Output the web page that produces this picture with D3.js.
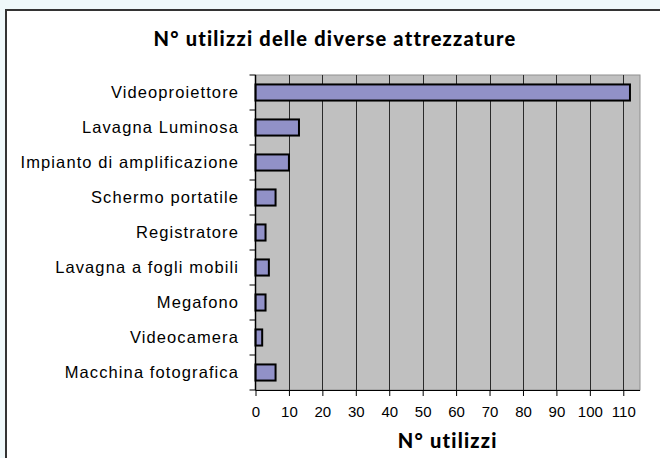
<!DOCTYPE html>
<html>
<head>
<meta charset="utf-8">
<script src="https://cdn.jsdelivr.net/npm/d3@7"></script>
<style>
  html, body { margin: 0; padding: 0; background: #eff8fa; }
  svg { display: block; }
</style>
</head>
<body>
<svg id="chart" width="660" height="458"></svg>
<script>
// Equipment categories, top to bottom
const categories = [
  "Videoproiettore",
  "Lavagna Luminosa",
  "Impianto di amplificazione",
  "Schermo portatile",
  "Registratore",
  "Lavagna a fogli mobili",
  "Megafono",
  "Videocamera",
  "Macchina fotografica"
];
// Number of uses per category
const usesCount = [112, 13, 10, 6, 3, 4, 3, 2, 6];
// Axis ticks
const xTicks = [0, 10, 20, 30, 40, 50, 60, 70, 80, 90, 100, 110];

const title = "N° utilizzi delle diverse attrezzature";
const xTitle = "N° utilizzi";

const svg = d3.select("#chart");

// Chart frame (white panel with dark border)
svg.append("rect")
  .attr("x", 6).attr("y", 10)
  .attr("width", 670).attr("height", 470)
  .attr("fill", "#ffffff")
  .attr("stroke", "#333333")
  .attr("stroke-width", 2);

const plot = { left: 255.5, right: 640, top: 75, bottom: 390 };

const x = d3.scaleLinear().domain([0, 115]).range([plot.left, plot.right]);
const y = d3.scaleBand().domain(categories).range([plot.top, plot.bottom]).paddingInner(0.54).paddingOuter(0.27);

// Plot background
svg.append("rect")
  .attr("x", plot.left).attr("y", plot.top)
  .attr("width", plot.right - plot.left).attr("height", plot.bottom - plot.top)
  .attr("fill", "#c0c0c0")
  .attr("stroke", "#8f8f8f")
  .attr("stroke-width", 1);

// Vertical gridlines
svg.append("g")
  .selectAll("line")
  .data(xTicks.slice(1))
  .join("line")
  .attr("x1", d => Math.round(x(d)) + 0.5).attr("x2", d => Math.round(x(d)) + 0.5)
  .attr("y1", plot.top).attr("y2", plot.bottom)
  .attr("stroke", "#2a2a2a")
  .attr("stroke-width", 1);

// Bars
svg.append("g")
  .selectAll("rect")
  .data(categories.map((c, i) => ({ c, v: usesCount[i] })))
  .join("rect")
  .attr("x", x(0))
  .attr("y", d => y(d.c))
  .attr("width", d => x(d.v) - x(0))
  .attr("height", y.bandwidth())
  .attr("fill", "#9191c8")
  .attr("stroke", "#000000")
  .attr("stroke-width", 2);

// X axis
const xAxis = svg.append("g")
  .attr("transform", `translate(0,${plot.bottom})`)
  .call(d3.axisBottom(x).tickValues(xTicks).tickSize(6).tickSizeOuter(0).tickPadding(10));
xAxis.select(".domain").attr("stroke", "#000").attr("d", `M${plot.left},0.5H${plot.right}`);
xAxis.selectAll(".tick line").attr("stroke", "#000");
xAxis.selectAll("text")
  .attr("font-family", "Liberation Sans, Arial, sans-serif")
  .attr("font-size", 15)
  .attr("fill", "#000");

// Y axis
const yTickPos = d3.range(categories.length + 1).map(i => plot.top + i * (plot.bottom - plot.top) / categories.length);
svg.append("line")
  .attr("x1", plot.left).attr("x2", plot.left)
  .attr("y1", plot.top).attr("y2", plot.bottom)
  .attr("stroke", "#000").attr("stroke-width", 1.5);
svg.append("g")
  .selectAll("line")
  .data(yTickPos)
  .join("line")
  .attr("x1", plot.left - 6).attr("x2", plot.left)
  .attr("y1", d => d).attr("y2", d => d)
  .attr("stroke", "#000").attr("stroke-width", 1);

svg.append("g")
  .selectAll("text")
  .data(categories)
  .join("text")
  .attr("x", 239)
  .attr("y", d => y(d) + y.bandwidth() / 2)
  .attr("dy", "0.36em")
  .attr("text-anchor", "end")
  .attr("font-family", "Liberation Sans, Arial, sans-serif")
  .attr("font-size", 16.5)
  .attr("letter-spacing", "1.1px")
  .attr("fill", "#000")
  .text(d => d);

// Titles
svg.append("text")
  .attr("x", 335).attr("y", 46)
  .attr("text-anchor", "middle")
  .attr("font-family", "Lato, 'Open Sans', sans-serif")
  .attr("font-weight", 900)
  .attr("font-size", 20)
  .attr("letter-spacing", "1.2px")
  .text(title);

svg.append("text")
  .attr("x", (plot.left + plot.right) / 2).attr("y", 448)
  .attr("text-anchor", "middle")
  .attr("font-family", "Lato, 'Open Sans', sans-serif")
  .attr("font-weight", 900)
  .attr("font-size", 20)
  .attr("letter-spacing", "1.2px")
  .text(xTitle);
</script>
</body>
</html>
